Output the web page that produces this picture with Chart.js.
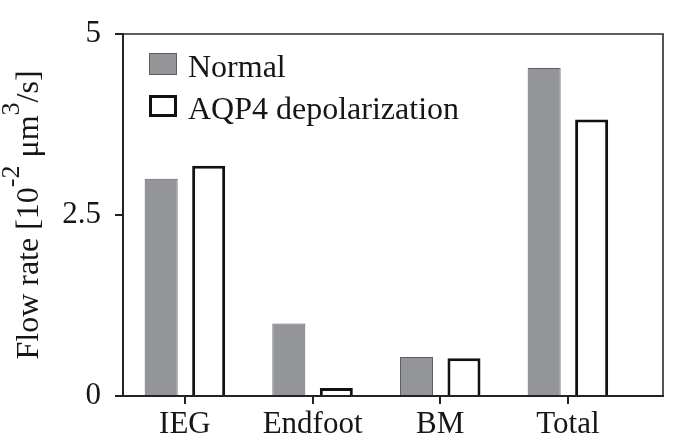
<!DOCTYPE html>
<html>
<head>
<meta charset="utf-8">
<script src="https://cdn.jsdelivr.net/npm/chart.js@4.4.1/dist/chart.umd.min.js"></script>
<style>
  html, body { margin: 0; padding: 0; background: #fff; }
  #wrap { width: 675px; height: 437px; }
</style>
</head>
<body>
<div id="wrap"><canvas id="flowChart" width="675" height="437"></canvas></div>
<script>
// Données
const categories = ["IEG", "Endfoot", "BM", "Total"];
const normalFlow = [3.0, 1.0, 0.54, 4.53];
const depolarizedFlow = [3.18, 0.11, 0.52, 3.82];
const seriesNames = ["Normal", "AQP4 depolarization"];
const yTicks = [0, 2.5, 5];
const yTitleParts = [["Flow rate [10", false], ["-2", true], [" \u03BCm", false], ["3", true], ["/s]", false]];

const serif = "'Liberation Serif', 'Times New Roman', serif";
const ink = "#161616";

// Cadre haut et droit
const framePlugin = {
    id: "frame",
    afterDraw(chart) {
        const { ctx, chartArea: a } = chart;
        ctx.save();
        ctx.strokeStyle = "#2a2a2a";
        ctx.lineWidth = 1.6;
        ctx.beginPath();
        ctx.moveTo(a.left, a.top);
        ctx.lineTo(a.right, a.top);
        ctx.lineTo(a.right, a.bottom);
        ctx.stroke();
        ctx.restore();
    }
};

// Légende dans la zone du graphique
const legendPlugin = {
    id: "insideLegend",
    afterDraw(chart) {
        const { ctx, chartArea: a } = chart;
        ctx.save();
        chart.data.datasets.forEach((ds, i) => {
            const x = a.left + 26;
            const y = a.top + 19 + i * 42;
            const bw = ds.legendBorder;
            ctx.fillStyle = ds.backgroundColor;
            ctx.fillRect(x, y, 28, 22);
            ctx.strokeStyle = ds.borderColor;
            ctx.lineWidth = bw;
            ctx.strokeRect(x + bw / 2, y + bw / 2, 28 - bw, 22 - bw);
            ctx.fillStyle = ink;
            ctx.font = "32px " + serif;
            ctx.textBaseline = "alphabetic";
            ctx.fillText(ds.label, x + 39, y + 24);
        });
        ctx.restore();
    }
};

// Titre de l'axe Y avec exposants
const yTitlePlugin = {
    id: "yTitle",
    afterDraw(chart) {
        const { ctx, chartArea: a } = chart;
        const baseFont = "32px " + serif;
        const supFont = "26px " + serif;
        ctx.save();
        let total = 0;
        const widths = yTitleParts.map(([t, sup]) => {
            ctx.font = sup ? supFont : baseFont;
            const w = ctx.measureText(t).width;
            total += w;
            return w;
        });
        ctx.translate(38, (a.top + a.bottom) / 2);
        ctx.rotate(-Math.PI / 2);
        ctx.fillStyle = ink;
        ctx.textBaseline = "alphabetic";
        let x = -total / 2;
        yTitleParts.forEach(([t, sup], i) => {
            ctx.font = sup ? supFont : baseFont;
            ctx.fillText(t, x, sup ? -19 : 0);
            x += widths[i];
        });
        ctx.restore();
    }
};

const ctx = document.getElementById("flowChart").getContext("2d");

new Chart(ctx, {
    type: "bar",
    data: {
        datasets: [
            {
                label: seriesNames[0],
                data: categories.map((c, i) => ({ x: i, y: normalFlow[i] })),
                backgroundColor: "#939598",
                borderColor: "#5e5f61",
                borderWidth: 1,
                legendBorder: 1
            },
            {
                label: seriesNames[1],
                data: categories.map((c, i) => ({ x: i, y: depolarizedFlow[i] })),
                backgroundColor: "#ffffff",
                borderColor: "#111111",
                borderWidth: 3,
                legendBorder: 3
            }
        ]
    },
    options: {
        responsive: false,
        animation: false,
        devicePixelRatio: 1,
        categoryPercentage: 0.744,
        barPercentage: 0.695,
        layout: { padding: { top: 34, right: 12, bottom: 0, left: 0 } },
        plugins: {
            legend: { display: false },
            tooltip: { enabled: false }
        },
        scales: {
            x: {
                type: "linear",
                offset: false,
                min: -0.485,
                max: 3.745,
                afterBuildTicks: (scale) => {
                    scale.ticks = categories.map((c, i) => ({ value: i }));
                },
                afterFit: (scale) => { scale.height = 41; },
                ticks: {
                    autoSkip: false,
                    maxRotation: 0,
                    padding: 2,
                    color: ink,
                    font: { family: serif, size: 31 },
                    callback: (v) => categories[v]
                },
                grid: { offset: false, drawOnChartArea: false, drawTicks: true, tickLength: 8, color: "#222", lineWidth: 2 },
                border: { display: true, color: "#222", width: 2 }
            },
            y: {
                min: 0,
                max: 5,
                afterBuildTicks: (scale) => {
                    scale.ticks = yTicks.map((v) => ({ value: v }));
                },
                afterFit: (scale) => { scale.width = 123; },
                ticks: {
                    padding: 14,
                    color: ink,
                    font: { family: serif, size: 31 },
                    callback: (v) => String(v)
                },
                grid: { drawOnChartArea: false, drawTicks: true, tickLength: 8, color: "#222", lineWidth: 2 },
                border: { display: true, color: "#222", width: 2 }
            }
        }
    },
    plugins: [framePlugin, legendPlugin, yTitlePlugin]
});
</script>
</body>
</html>
